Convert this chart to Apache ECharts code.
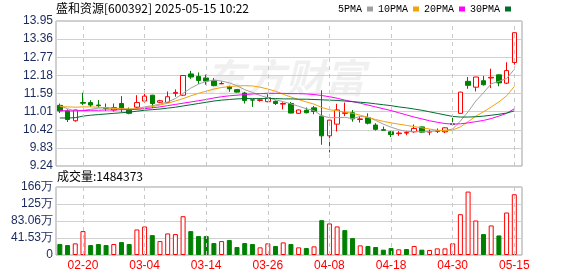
<!DOCTYPE html>
<html><head><meta charset="utf-8">
<script src="https://cdn.jsdelivr.net/npm/echarts@6/dist/echarts.min.js"></script>
<style>html,body{margin:0;padding:0;background:#fff}#c{width:578px;height:276px}</style>
</head><body><div id="c"></div>
<script>
const dates = ['02-17','02-18','02-19','02-20','02-21','02-24','02-25','02-26','02-27','02-28',
'03-03','03-04','03-05','03-06','03-07','03-10','03-11','03-12','03-13','03-14',
'03-17','03-18','03-19','03-20','03-21','03-24','03-25','03-26','03-27','03-28','03-31',
'04-01','04-02','04-03','04-07','04-08','04-09','04-10','04-11','04-14','04-15','04-16','04-17','04-18',
'04-21','04-22','04-23','04-24','04-25','04-28','04-29','04-30',
'05-06','05-07','05-08','05-09','05-12','05-13','05-14','05-15'];
const tickDates = ['02-20','03-04','03-14','03-26','04-08','04-18','04-30','05-15'];
const priceTicks = ['9.24','9.83','10.42','11.01','11.59','12.18','12.77','13.36','13.95'];
const volTicks = ['0','41.53万','83.06万','125万','166万'];
const titleText = '盛和资源[600392] 2025-05-15 10:22';
const volTitle = '成交量:1484373';
const maNames = ['5PMA','10PMA','20PMA','30PMA'];

const open  = [11.21,11.03,10.71,11.30,11.30,11.22,11.13,11.06,11.27,11.08,11.15,11.35,11.54,11.31,11.30,11.60,11.54,12.23,12.15,12.10,
12.02,11.91,11.82,11.72,11.61,11.39,11.37,11.33,11.34,11.25,11.27,10.95,11.05,11.13,10.86,10.22,10.60,10.95,10.97,10.75,
10.81,10.57,10.42,10.35,10.29,10.31,10.35,10.51,10.34,10.36,10.35,10.61,10.95,11.99,11.80,12.01,12.10,12.20,11.93,12.60];
const close = [11.03,10.75,11.06,11.28,11.22,11.20,11.11,11.14,11.12,10.95,11.30,11.51,11.27,11.36,11.49,11.63,12.18,12.13,12.02,12.00,
11.85,11.92,11.75,11.64,11.37,11.38,11.39,11.46,11.27,11.27,10.96,11.06,10.97,11.01,10.22,10.73,11.06,10.97,10.77,10.77,
10.63,10.43,10.40,10.26,10.31,10.33,10.46,10.34,10.36,10.38,10.48,10.59,11.64,11.86,12.13,11.88,12.12,11.94,12.34,13.57];
const low   = [10.96,10.67,10.68,11.22,11.16,11.13,11.03,11.01,10.98,10.92,11.10,11.30,11.12,11.28,11.28,11.49,11.51,12.07,11.90,11.88,
11.83,11.90,11.65,11.62,11.27,11.16,11.33,11.31,11.22,11.08,10.95,10.94,10.95,10.92,9.93,9.68,10.36,10.86,10.68,10.65,
10.59,10.39,10.39,10.18,10.22,10.24,10.32,10.32,10.24,10.31,10.31,10.58,10.94,11.75,11.66,11.85,11.77,11.83,11.90,12.53];
const high  = [11.27,11.08,11.07,11.62,11.38,11.38,11.27,11.27,11.51,11.14,11.54,11.73,11.55,11.39,11.66,11.73,12.19,12.33,12.28,12.21,
12.10,11.99,11.85,11.73,11.65,11.40,11.43,11.57,11.37,11.31,11.32,11.07,11.14,11.19,11.70,10.74,11.26,11.30,11.06,10.86,
10.95,10.63,10.52,10.38,10.37,10.38,10.59,10.52,10.42,10.46,10.50,10.81,11.65,12.13,12.14,12.17,12.40,12.21,12.61,13.58];

const ma5  = [11.20,11.10,11.03,11.05,11.08,11.12,11.13,11.12,11.11,11.08,11.10,11.16,11.20,11.25,11.32,11.43,11.60,11.77,11.90,11.99,
12.03,12.00,11.94,11.85,11.72,11.63,11.53,11.46,11.39,11.33,11.26,11.18,11.10,11.04,10.87,10.81,10.81,10.82,10.78,10.85,
10.83,10.72,10.60,10.50,10.42,10.36,10.36,10.35,10.36,10.38,10.40,10.44,10.70,11.00,11.35,11.62,11.91,11.99,12.08,12.38];
const ma10 = [11.17,11.16,11.15,11.16,11.16,11.15,11.13,11.11,11.10,11.09,11.10,11.13,11.17,11.22,11.28,11.35,11.43,11.52,11.60,11.67,
11.74,11.79,11.82,11.84,11.85,11.84,11.80,11.74,11.67,11.57,11.48,11.40,11.32,11.25,11.14,11.07,11.03,10.99,10.95,10.89,
10.82,10.75,10.69,10.64,10.60,10.56,10.52,10.48,10.44,10.40,10.39,10.41,10.51,10.68,10.86,11.00,11.16,11.32,11.52,11.82];
const ma20 = [11.04,11.03,11.03,11.04,11.05,11.05,11.06,11.06,11.07,11.07,11.08,11.10,11.13,11.16,11.20,11.24,11.28,11.32,11.36,11.40,
11.45,11.49,11.52,11.54,11.56,11.58,11.59,11.60,11.60,11.60,11.59,11.59,11.58,11.56,11.53,11.49,11.44,11.38,11.33,11.28,
11.22,11.16,11.10,11.04,10.97,10.90,10.83,10.77,10.71,10.66,10.62,10.60,10.61,10.64,10.68,10.72,10.78,10.86,10.95,11.10];
const ma30 = [10.80,10.80,10.81,10.86,10.89,10.91,10.93,10.95,10.97,10.99,11.02,11.05,11.07,11.09,11.12,11.15,11.19,11.23,11.27,11.31,
11.35,11.38,11.40,11.42,11.43,11.43,11.43,11.43,11.43,11.42,11.42,11.41,11.41,11.40,11.39,11.38,11.37,11.35,11.33,11.31,
11.29,11.26,11.23,11.20,11.16,11.13,11.09,11.05,11.00,10.95,10.90,10.85,10.83,10.83,10.84,10.86,10.89,10.92,10.96,11.03];

const volume = [26.8,24.3,28.4,58.4,24.3,26.8,24.3,26.8,31.6,26.8,62.4,69.7,48.6,34.0,52.7,51.1,94.8,58.4,46.2,46.2,
29.2,34.0,36.5,19.5,29.2,26.8,18.7,28.4,21.9,30.8,26.8,18.7,17.0,21.1,85.1,77.1,69.8,60.8,41.3,23.5,
21.9,19.5,13.0,17.0,13.8,14.6,21.9,13.0,12.2,16.2,16.2,28.4,99.7,154.9,84.3,51.1,72.2,47.8,103.8,148.44];
const volDir = [-1,-1,1,1,-1,-1,-1,1,-1,-1,1,1,-1,1,1,1,1,-1,-1,-1,
-1,1,-1,-1,-1,-1,1,1,-1,1,-1,1,-1,1,-1,1,1,-1,-1,1,
-1,-1,-1,-1,1,-1,1,-1,1,1,1,1,1,1,1,-1,1,-1,1,1];

const RED = '#ff0000', GREEN = '#008000', GRID = '#d0d0d0', FRAME = '#a0a0a0', LBL = '#1b2a5e';
const maColors = ['#a0a0a0','#f0a30a','#ff00ff','#006c2e'];
const pMin = 9.24, pMax = 13.95, pInt = 0.58875;
const vMax = 166.12, vInt = 41.53;

const tickIdx = tickDates.map(d => dates.indexOf(d));
const candle = dates.map((d, i) => [i, open[i], close[i], low[i], high[i]]);
const mas = [ma5, ma10, ma20, ma30];
const numFont = '"Liberation Sans", Arial, sans-serif';

const chart = echarts.init(document.getElementById('c'), null, {renderer: 'canvas'});
chart.setOption({
  animation: false,
  backgroundColor: '#fff',
  title: [
    {text: titleText, left: 56, top: 2, padding: 0,
     textStyle: {fontSize: 12, fontWeight: 'normal', color: '#000', fontFamily: '"Noto Sans CJK SC", sans-serif'}},
    {text: volTitle, left: 57, top: 170, padding: 0,
     textStyle: {fontSize: 12, fontWeight: 'normal', color: '#000', fontFamily: '"Noto Sans CJK SC", sans-serif'}}
  ],
  legend: {
    left: 338, top: 4, padding: 0, align: 'right', icon: 'rect', itemWidth: 6, itemHeight: 5, itemGap: 5,
    textStyle: {fontSize: 10, color: '#000', fontFamily: '"Liberation Mono", monospace'},
    data: maNames
  },
  graphic: [{
    type: 'text', left: 205, top: 58, z: 0, silent: true,
    style: {text: '东方财富', font: 'italic bold 40px "Noto Sans CJK SC"', fill: 'rgba(0,0,0,0.06)'}
  }],
  grid: [
    {left: 56, top: 21, width: 466, height: 145, show: true, borderColor: FRAME, borderWidth: 1, backgroundColor: 'transparent'},
    {left: 56, top: 187, width: 466, height: 68, show: true, borderColor: FRAME, borderWidth: 1, backgroundColor: 'transparent'}
  ],
  xAxis: [
    {gridIndex: 0, type: 'value', min: -0.5, max: 60, axisLine: {show: false}, axisTick: {show: false},
     axisLabel: {show: false}, splitLine: {show: false}},
    {gridIndex: 1, type: 'value', min: -0.5, max: 60, axisLine: {show: false}, axisTick: {show: false},
     splitLine: {show: false},
     axisLabel: {customValues: tickIdx, formatter: v => dates[Math.round(v)] || '', color: RED, fontSize: 12,
                 margin: 5, fontFamily: numFont}}
  ],
  yAxis: [
    {gridIndex: 0, type: 'value', min: pMin, max: pMax, interval: pInt, axisLine: {show: false}, axisTick: {show: false},
     splitLine: {lineStyle: {color: GRID, width: 1}},
     axisLabel: {color: LBL, fontSize: 12, margin: 3, fontFamily: numFont,
                 formatter: v => priceTicks[Math.round((v - pMin) / pInt)] || ''}},
    {gridIndex: 1, type: 'value', min: 0, max: vMax, interval: vInt, axisLine: {show: false}, axisTick: {show: false},
     splitLine: {lineStyle: {color: GRID, width: 1}},
     axisLabel: {color: LBL, fontSize: 12, margin: 3, fontFamily: numFont,
                 formatter: v => volTicks[Math.round(v / vInt)] || ''}}
  ],
  series: [
    {type: 'candlestick', xAxisIndex: 0, yAxisIndex: 0, data: candle, encode: {x: 0, y: [1, 2, 3, 4]},
     barWidth: 5, z: 3,
     itemStyle: {color: '#ffffff', color0: GREEN, borderColor: RED, borderColor0: GREEN, borderWidth: 1},
     markLine: {silent: true, symbol: ['none', 'none'], label: {show: false}, animation: false,
       lineStyle: {type: [4, 4], color: '#c8c8c8', width: 1},
       data: tickIdx.map(i => ({xAxis: i}))}},
    ...maNames.map((n, k) => ({
      name: n, type: 'line', xAxisIndex: 0, yAxisIndex: 0, showSymbol: false, symbol: 'none', z: 4,
      data: mas[k].map((v, i) => [i, v]), lineStyle: {color: maColors[k], width: 1}, itemStyle: {color: maColors[k]}
    })),
    {type: 'bar', xAxisIndex: 1, yAxisIndex: 1, barWidth: 5, z: 3,
     data: volume.map((v, i) => ({value: [i, v], itemStyle: volDir[i] > 0
        ? {color: '#ffffff', borderColor: RED, borderWidth: 1}
        : {color: GREEN, borderColor: GREEN, borderWidth: 1}})),
     markLine: {silent: true, symbol: ['none', 'none'], label: {show: false}, animation: false,
       lineStyle: {type: [4, 4], color: '#c8c8c8', width: 1},
       data: tickIdx.map(i => ({xAxis: i}))}}
  ]
});
</script></body></html>
